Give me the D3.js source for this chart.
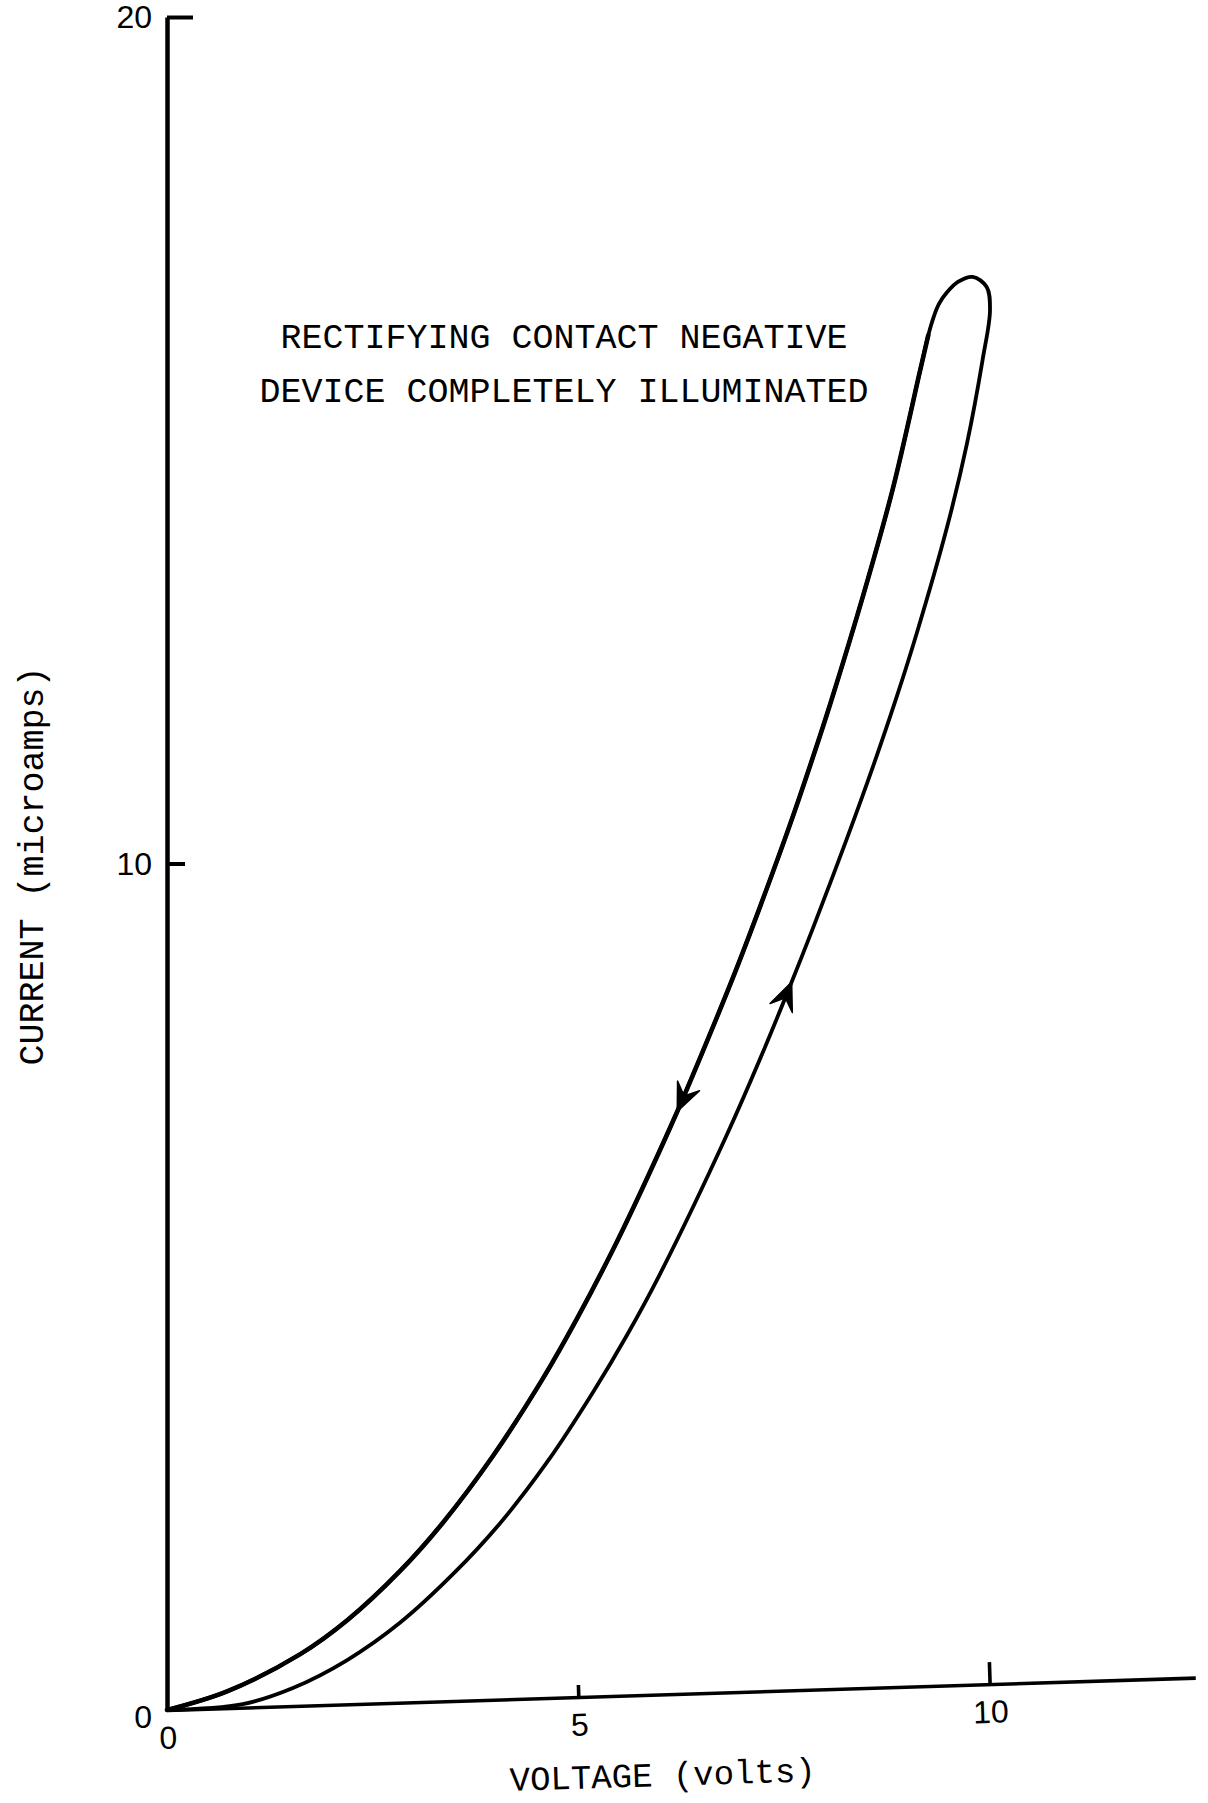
<!DOCTYPE html>
<html>
<head>
<meta charset="utf-8">
<script src="https://cdn.jsdelivr.net/npm/d3@7"></script>
<style>
  body { margin: 0; background: #fff; }
  svg { display: block; }
</style>
</head>
<body>
<svg id="chart" width="1208" height="1803"></svg>
<script>
// Axis tick values
const voltageTicks = [0, 5, 10];
const currentTicks = [0, 10, 20];

// Forward sweep (voltage increasing), volts / microamps
const forwardVoltage = [0, 0.92, 1.53, 2.19, 2.83, 3.48, 4.05, 4.62, 5.18, 5.59, 5.99, 6.80, 7.24, 7.59, 7.85, 8.26, 8.58, 8.86, 9.11, 9.48, 9.72, 9.91, 10.0, 9.96, 9.79];
const forwardCurrent = [0, 0.07, 0.26, 0.59, 1.03, 1.61, 2.21, 2.93, 3.76, 4.43, 5.15, 6.79, 7.77, 8.60, 9.24, 10.29, 11.15, 11.95, 12.72, 13.98, 14.96, 15.95, 16.54, 16.81, 16.93];

// Return sweep (voltage decreasing)
const returnVoltage = [9.79, 9.61, 9.48, 9.38, 9.31, 9.25, 9.15, 8.82, 8.46, 8.07, 7.85, 7.57, 7.21, 6.88, 6.51, 6.20, 5.78, 5.42, 4.98, 4.57, 3.96, 3.35, 2.83, 2.19, 1.62, 0.73, 0];
const returnCurrent = [16.93, 16.87, 16.75, 16.61, 16.44, 16.24, 15.82, 14.43, 13.17, 11.92, 11.26, 10.46, 9.50, 8.66, 7.78, 7.07, 6.17, 5.44, 4.62, 3.92, 3.00, 2.21, 1.64, 1.06, 0.66, 0.22, 0];

// Where the direction arrows sit on each sweep (point index)
const forwardArrowIndex = 13;
const returnArrowIndex = 15;

const titleLines = ["RECTIFYING CONTACT NEGATIVE", "DEVICE COMPLETELY ILLUMINATED"];
const xTitle = "VOLTAGE (volts)";
const yTitle = "CURRENT (microamps)";

const svg = d3.select("#chart");
svg.append("rect").attr("width", 1208).attr("height", 1803).attr("fill", "#fff");

const x = d3.scaleLinear().domain([0, 10]).range([167, 990]);
const y = d3.scaleLinear().domain([0, 20]).range([1710, 17]);
const xAxisEnd = 12.5;
const xAxisTilt = -1.8; // the hand-ruled voltage axis rises slightly to the right

const monoFont = "'Courier New', 'Liberation Mono', monospace";
const numFont = "'Liberation Sans', Arial, sans-serif";

// ---- Current axis (vertical) ----
const yAxis = d3.axisLeft(y)
  .tickValues(currentTicks)
  .tickSize(-18)
  .tickSizeOuter(0)
  .tickPadding(15)
  .tickFormat(d3.format("d"));

const yAxisG = svg.append("g")
  .attr("transform", `translate(${x(0)},0)`)
  .call(yAxis);
yAxisG.select(".domain").attr("stroke", "#000").attr("stroke-width", 4.5);
yAxisG.selectAll(".tick line").attr("stroke", "#000").attr("stroke-width", 4)
  .attr("x2", d => d === 20 ? 26 : 18);
yAxisG.selectAll(".tick").filter(d => d === 0).select("line").remove();
yAxisG.selectAll(".tick text")
  .attr("font-family", numFont).attr("font-size", 32).attr("fill", "#000")
  .attr("dy", d => d === 0 ? "0.55em" : "0.34em");

// ---- Voltage axis (horizontal) ----
const xa = d3.scaleLinear().domain([0, xAxisEnd]).range([0, x(xAxisEnd) - x(0)]);
const xAxis = d3.axisBottom(xa)
  .tickValues(voltageTicks)
  .tickSize(-12)
  .tickSizeOuter(0)
  .tickPadding(16)
  .tickFormat(d3.format("d"));

const xAxisG = svg.append("g")
  .attr("transform", `translate(${x(0)},${y(0)}) rotate(${xAxisTilt})`)
  .call(xAxis);
xAxisG.select(".domain").attr("stroke", "#000").attr("stroke-width", 3.6);
xAxisG.selectAll(".tick line").attr("stroke", "#000").attr("stroke-width", 3.6)
  .attr("y2", d => d === 10 ? -22 : -12);
xAxisG.selectAll(".tick").filter(d => d === 0).select("line").remove();
xAxisG.selectAll(".tick text")
  .attr("font-family", numFont).attr("font-size", 32).attr("fill", "#000");

// ---- Hysteresis loop ----
const forwardPts = forwardVoltage.map((v, i) => [v, forwardCurrent[i]]);
const returnPts = returnVoltage.map((v, i) => [v, returnCurrent[i]]);
const loopPts = forwardPts.concat(returnPts.slice(1));

const line = d3.line()
  .x(d => x(d[0]))
  .y(d => y(d[1]))
  .curve(d3.curveCatmullRom.alpha(0.5));

svg.append("path")
  .datum(loopPts)
  .attr("d", line)
  .attr("fill", "none")
  .attr("stroke", "#000")
  .attr("stroke-width", 3.8)
  .attr("stroke-linejoin", "round")
  .attr("stroke-linecap", "round");

// the return sweep is traced with a slightly heavier pen
svg.append("path")
  .datum(returnPts.slice(5))
  .attr("d", line)
  .attr("fill", "none")
  .attr("stroke", "#000")
  .attr("stroke-width", 4.6)
  .attr("stroke-linecap", "round");

// Direction arrowheads along each sweep
function arrowAt(pts, i) {
  const [px, py] = [x(pts[i][0]), y(pts[i][1])];
  const dx = x(pts[i + 1][0]) - x(pts[i - 1][0]);
  const dy = y(pts[i + 1][1]) - y(pts[i - 1][1]);
  const ang = Math.atan2(dy, dx) * 180 / Math.PI;
  svg.append("path")
    .attr("d", "M0,0 L-28,-12 L-17,0 L-28,12 Z")
    .attr("transform", `translate(${px},${py}) rotate(${ang})`)
    .attr("fill", "#000")
    .attr("stroke", "#000")
    .attr("stroke-width", 1.5)
    .attr("stroke-linejoin", "round");
}
arrowAt(forwardPts, forwardArrowIndex);
arrowAt(returnPts, returnArrowIndex);

// ---- Text ----
svg.append("g")
  .attr("font-family", monoFont)
  .attr("font-size", 35)
  .attr("fill", "#000")
  .attr("text-anchor", "middle")
  .selectAll("text")
  .data(titleLines)
  .join("text")
  .attr("x", 564)
  .attr("y", (d, i) => 348 + i * 54)
  .text(d => d);

svg.append("text")
  .attr("x", 663).attr("y", 1786)
  .attr("transform", `rotate(${xAxisTilt},663,1786)`)
  .attr("text-anchor", "middle")
  .attr("font-family", monoFont).attr("font-size", 34).attr("fill", "#000")
  .text(xTitle);

svg.append("text")
  .attr("transform", "translate(43,866) rotate(-90)")
  .attr("text-anchor", "middle")
  .attr("font-family", monoFont).attr("font-size", 35).attr("fill", "#000")
  .text(yTitle);
</script>
</body>
</html>
